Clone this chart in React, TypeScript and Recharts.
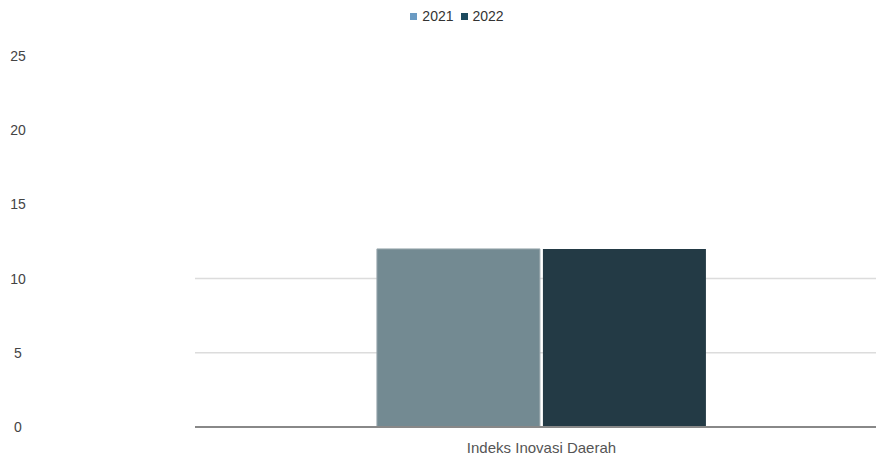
import {
  BarChart,
  Bar,
  XAxis,
  YAxis,
  CartesianGrid,
  Legend,
} from "recharts";

const categories = ["Indeks Inovasi Daerah"];
const values2021 = [12];
const values2022 = [12];
const yTicks = [0, 5, 10, 15, 20, 25];

const data = categories.map((name, i) => ({
  name,
  y2021: values2021[i],
  y2022: values2022[i],
}));

const legendItems = [
  { label: "2021", color: "#6b9bc3" },
  { label: "2022", color: "#1c4a5e" },
];

const YTick = (props: any) => {
  const { y, payload } = props;
  return (
    <text x={18} y={y} dy={5} textAnchor="middle" fill="#444" fontSize={14}>
      {payload.value}
    </text>
  );
};

const LegendContent = () => (
  <div
    style={{
      display: "flex",
      justifyContent: "center",
      gap: 7,
      fontSize: 14,
      color: "#333",
      fontFamily: "Liberation Sans, Arial, sans-serif",
      paddingLeft: 38,
    }}
  >
    {legendItems.map((it) => (
      <span key={it.label} style={{ display: "flex", alignItems: "center" }}>
        <span
          style={{
            width: 7,
            height: 7,
            background: it.color,
            display: "inline-block",
            marginRight: 5,
          }}
        />
        {it.label}
      </span>
    ))}
  </div>
);

export default function App() {
  return (
    <div
      style={{
        position: "absolute",
        left: 0,
        top: 0,
        fontFamily: "Liberation Sans, Arial, sans-serif",
      }}
    >
      <BarChart
        width={876}
        height={456}
        data={data}
        margin={{ top: 40, right: 0, bottom: 0, left: 0 }}
        barCategoryGap="25.4%"
        barGap={3}
      >
        <Legend
          verticalAlign="top"
          content={LegendContent}
          wrapperStyle={{ top: 8 }}
        />
        <CartesianGrid
          vertical={false}
          horizontalValues={[5, 10]}
          stroke="#dcdcdc"
          strokeWidth={1.5}
        />
        <XAxis
          dataKey="name"
          height={29}
          tickLine={false}
          padding={{ left: 12, right: 0 }}
          axisLine={{ stroke: "#888", strokeWidth: 2 }}
          tick={{ fill: "#555", fontSize: 15 }}
          tickMargin={9}
        />
        <YAxis
          width={195}
          domain={[0, 25]}
          ticks={yTicks}
          axisLine={false}
          tickLine={false}
          tick={<YTick />}
        />
        <Bar
          dataKey="y2021"
          fill="#738a92"
          stroke="#9aa9ae"
          strokeWidth={1}
          isAnimationActive={false}
        />
        <Bar
          dataKey="y2022"
          fill="#233a45"
          isAnimationActive={false}
        />
      </BarChart>
    </div>
  );
}
